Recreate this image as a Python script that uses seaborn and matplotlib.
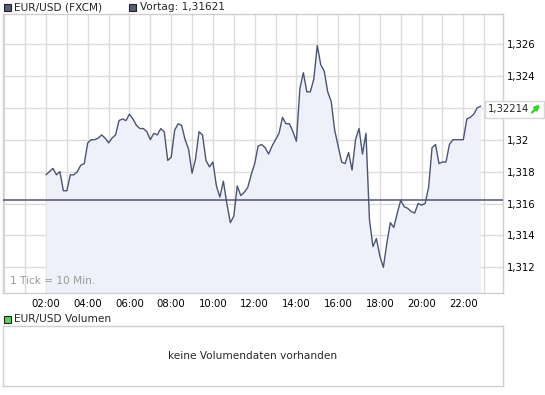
import numpy as np
import pandas as pd
import matplotlib
matplotlib.use("Agg")
import matplotlib.pyplot as plt
from matplotlib.patches import Rectangle, FancyArrowPatch
import seaborn as sns

# EUR/USD intraday, 1 tick = 10 min, 02:00 .. 22:50
kurs = [
    1.3178, 1.3180, 1.3182, 1.3178, 1.3180, 1.3168,   # 02
    1.3168, 1.3178, 1.3178, 1.3180, 1.3184, 1.3185,   # 03
    1.3198, 1.3200, 1.3200, 1.3201, 1.3203, 1.3201,   # 04
    1.3198, 1.3201, 1.3203, 1.3212, 1.3213, 1.3212,   # 05
    1.3216, 1.3213, 1.3209, 1.3207, 1.3207, 1.3205,   # 06
    1.3200, 1.3204, 1.3203, 1.3207, 1.3205, 1.3187,   # 07
    1.3189, 1.3206, 1.3210, 1.3209, 1.3200, 1.3194,   # 08
    1.3179, 1.3188, 1.3205, 1.3203, 1.3187, 1.3183,   # 09
    1.3186, 1.3171, 1.3164, 1.3174, 1.3160, 1.3148,   # 10
    1.3152, 1.3171, 1.3165, 1.3167, 1.3170, 1.3178,   # 11
    1.3185, 1.3196, 1.3197, 1.3195, 1.3191, 1.3196,   # 12
    1.3200, 1.3204, 1.3214, 1.3210, 1.3210, 1.3205,   # 13
    1.3199, 1.3232, 1.3242, 1.3230, 1.3230, 1.3238,   # 14
    1.3259, 1.3247, 1.3243, 1.3230, 1.3224, 1.3206,   # 15
    1.3196, 1.3186, 1.3185, 1.3192, 1.3181, 1.3200,   # 16
    1.3207, 1.3191, 1.3204, 1.3150, 1.3133, 1.3138,   # 17
    1.3127, 1.3120, 1.3135, 1.3148, 1.3145, 1.3154,   # 18
    1.3162, 1.3158, 1.3157, 1.3155, 1.3154, 1.3160,   # 19
    1.3159, 1.3160, 1.3170, 1.3195, 1.3197, 1.3185,   # 20
    1.3186, 1.3186, 1.3197, 1.3200, 1.3200, 1.3200,   # 21
    1.3200, 1.3213, 1.3214, 1.3216, 1.3220, 1.3221,   # 22
]
stunden = 2 + np.arange(len(kurs)) / 6.0

vortag = 1.31621
letzter = "1,32214"

xtick_pos = [2, 4, 6, 8, 10, 12, 14, 16, 18, 20, 22]
xtick_labels = ["02:00", "04:00", "06:00", "08:00", "10:00", "12:00",
                "14:00", "16:00", "18:00", "20:00", "22:00"]
ytick_pos = [1.312, 1.314, 1.316, 1.318, 1.320, 1.322, 1.324, 1.326]
# 1,322 sits under the last-price box, so it is not shown
ytick_labels = ["1,312", "1,314", "1,316", "1,318", "1,32", "", "1,324", "1,326"]

line_col = "#4b5573"
fill_col = "#eef1fa"
grid_col = "#dcdcdc"
frame_col = "#cfcfcf"

sns.set_style("white")
plt.rcParams["font.family"] = ["DejaVu Sans"]
plt.rcParams["font.size"] = 7.6

W, H = 545, 395
fig = plt.figure(figsize=(W / 100, H / 100), dpi=100)

def fx(px):
    return px / W

def fy(py):
    return 1 - py / H

# Kurs-Chart
ax = fig.add_axes([fx(3), fy(293), fx(500), 279 / H])
df = pd.DataFrame({"zeit": stunden, "kurs": kurs})
ymin, ymax = 1.31039, 1.32788
ax.fill_between(df["zeit"], df["kurs"], ymin, color=fill_col, lw=0, zorder=1)
sns.lineplot(data=df, x="zeit", y="kurs", ax=ax, color=line_col, lw=1.0, zorder=3)
ax.axhline(vortag, color=line_col, lw=1.1, zorder=4)

ax.set_xlim(-0.06, 23.9)
ax.set_ylim(ymin, ymax)
ax.set_xticks(xtick_pos)
ax.set_xticklabels(xtick_labels)
ax.set_xticks(range(0, 24), minor=True)
ax.set_yticks(ytick_pos)
ax.set_yticklabels(ytick_labels)
ax.yaxis.tick_right()
ax.tick_params(axis="both", which="both", length=0, colors="black", labelsize=7.3)
ax.tick_params(axis="x", pad=4)
ax.tick_params(axis="y", pad=3)
ax.grid(True, which="both", color=grid_col, lw=1, zorder=0)
ax.set_axisbelow(True)
ax.set_xlabel("")
ax.set_ylabel("")
for sp in ax.spines.values():
    sp.set_color(frame_col)
    sp.set_linewidth(1)

ax.text(0.014, 0.025, "1 Tick = 10 Min.", transform=ax.transAxes,
        color="#9a9a9a", fontsize=7.6, va="bottom", ha="left", zorder=5)

# Legende oben
fig.add_artist(Rectangle((fx(3.5), fy(10.5)), fx(7), 7 / H, transform=fig.transFigure,
                         facecolor="#555d7a", edgecolor="#222222", lw=0.8))
fig.text(fx(14), fy(7), "EUR/USD (FXCM)", va="center", ha="left")
fig.add_artist(Rectangle((fx(128.5), fy(10.5)), fx(7), 7 / H, transform=fig.transFigure,
                         facecolor="#555d7a", edgecolor="#222222", lw=0.8))
fig.text(fx(140), fy(7), "Vortag: 1,31621", va="center", ha="left")

# letzter Kurs
fig.add_artist(Rectangle((fx(484.5), fy(117.5)), fx(59), 16.5 / H, transform=fig.transFigure,
                         facecolor="white", edgecolor="#d8d8d8", lw=1, zorder=10))
fig.text(fx(488), fy(109.5), letzter, va="center", ha="left", fontsize=7.3, zorder=11)
pfeil = FancyArrowPatch((fx(532), fy(112.5)), (fx(540), fy(104.5)),
                        transform=fig.transFigure, arrowstyle="-|>",
                        mutation_scale=7, color="#22dd22", lw=1.6,
                        shrinkA=0, shrinkB=0, zorder=12)
fig.add_artist(pfeil)

# Volumen
fig.add_artist(Rectangle((fx(3.5), fy(322.5)), fx(7), 7 / H, transform=fig.transFigure,
                         facecolor="#5fcf5f", edgecolor="#222222", lw=0.8))
fig.text(fx(13.5), fy(319), "EUR/USD Volumen", va="center", ha="left")

ax2 = fig.add_axes([fx(3), fy(386), fx(500), 60 / H])
ax2.set_xticks([])
ax2.set_yticks([])
for sp in ax2.spines.values():
    sp.set_color(frame_col)
    sp.set_linewidth(1)
ax2.text(0.5, 0.5, "keine Volumendaten vorhanden", transform=ax2.transAxes,
         ha="center", va="center")

fig.savefig("out.png", dpi=100)
